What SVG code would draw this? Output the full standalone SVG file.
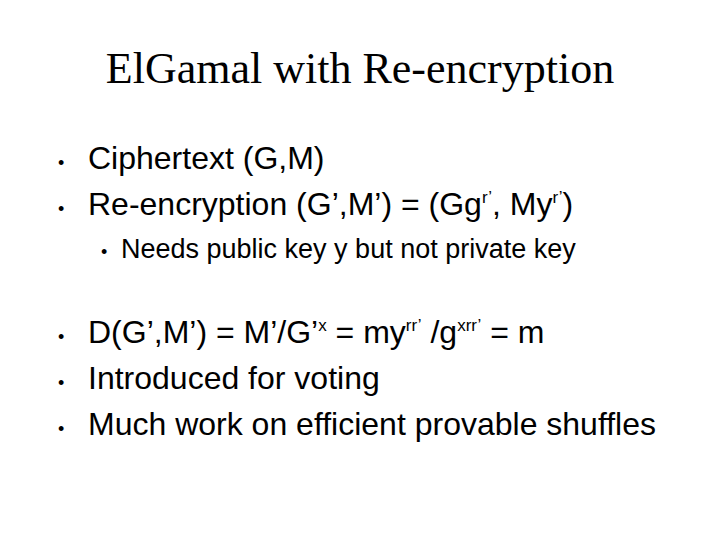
<svg xmlns="http://www.w3.org/2000/svg" width="720" height="540" viewBox="0 0 720 540">
<style>
.t{font-family:"Liberation Serif",serif;font-size:44px;fill:#000}
.b{font-family:"Liberation Sans",sans-serif;font-size:32px;fill:#000}
.s{font-family:"Liberation Sans",sans-serif;font-size:27px;fill:#000}
.d{font-family:"Liberation Sans",sans-serif;font-size:18px;fill:#000}
.p{font-size:17px}
</style>
<rect width="720" height="540" fill="#fff"/>
<text class="t" x="360" y="83" text-anchor="middle">ElGamal with Re-encryption</text>
<text class="d" x="58" y="169">•</text>
<text class="b" x="88" y="169">Ciphertext (G,M)</text>
<text class="d" x="58" y="215">•</text>
<text class="b" x="88" y="215">Re-encryption (G’,M’) = (Gg<tspan class="p" dy="-12">r’</tspan><tspan dy="12">, My</tspan><tspan class="p" dy="-12">r’</tspan><tspan dy="12">)</tspan></text>
<text class="d" x="101" y="258">•</text>
<text class="s" x="121" y="258">Needs public key y but not private key</text>
<text class="d" x="58" y="343">•</text>
<text class="b" x="88" y="343">D(G’,M’) = M’/G’<tspan class="p" dy="-12">x</tspan><tspan dy="12"> = my</tspan><tspan class="p" dy="-12">rr’</tspan><tspan dy="12"> /g</tspan><tspan class="p" dy="-12">xrr’</tspan><tspan dy="12"> = m</tspan></text>
<text class="d" x="58" y="389">•</text>
<text class="b" x="88" y="389">Introduced for voting</text>
<text class="d" x="58" y="435">•</text>
<text class="b" x="88" y="435">Much work on efficient provable shuffles</text>
</svg>
